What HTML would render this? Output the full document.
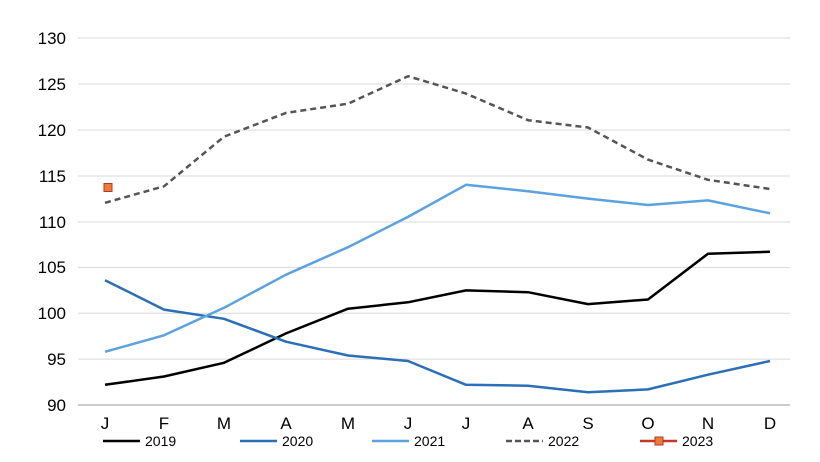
<!DOCTYPE html>
<html><head><meta charset="utf-8"><style>body{margin:0;background:#fff}svg{display:block}text{font-family:"Liberation Sans",sans-serif;font-size:17px;fill:#000}</style></head><body>
<svg width="820" height="462" viewBox="0 0 820 462" xmlns="http://www.w3.org/2000/svg">
<g stroke="#d9d9d9" stroke-width="1">
<line x1="78" x2="790" y1="38" y2="38"/><line x1="78" x2="790" y1="84" y2="84"/><line x1="78" x2="790" y1="130" y2="130"/><line x1="78" x2="790" y1="176" y2="176"/><line x1="78" x2="790" y1="222" y2="222"/><line x1="78" x2="790" y1="267.4" y2="267.4"/><line x1="78" x2="790" y1="313.3" y2="313.3"/><line x1="78" x2="790" y1="359.1" y2="359.1"/></g>
<line x1="78" x2="790" y1="405" y2="405" stroke="#999" stroke-width="1"/>
<g text-anchor="end">
<text x="66" y="44">130</text><text x="66" y="90">125</text><text x="66" y="136">120</text><text x="66" y="182">115</text><text x="66" y="228">110</text><text x="66" y="273">105</text><text x="66" y="319">100</text><text x="66" y="365">95</text><text x="66" y="411">90</text></g>
<g text-anchor="middle">
<text x="105" y="429">J</text><text x="164" y="429">F</text><text x="224" y="429">M</text><text x="286" y="429">A</text><text x="348" y="429">M</text><text x="408" y="429">J</text><text x="466" y="429">J</text><text x="528" y="429">A</text><text x="588" y="429">S</text><text x="648" y="429">O</text><text x="708" y="429">N</text><text x="770" y="429">D</text></g>
<g fill="none" stroke-width="2.5" stroke-linejoin="round">
<polyline stroke="#000" points="105,384.8 164,376.5 224,362.8 286,333.4 348,308.7 408,302.3 466,290.4 528,292.2 588,304.1 648,299.5 708,253.7 770,251.8"/>
<polyline stroke="#2a6fb8" points="105,280.2 164,309.6 224,318.8 286,341.7 348,355.5 408,361.0 466,384.8 528,385.7 588,392.2 648,389.4 708,374.7 770,361.0"/>
<polyline stroke="#5ba3e0" points="105,351.8 164,335.3 224,307.8 286,274.7 348,247.2 408,216.9 466,184.8 528,191.2 588,198.6 648,205.0 708,200.4 770,213.3"/>
<polyline stroke="#555" stroke-dasharray="6,4" points="105,202.8 164,186.3 224,136.7 286,112.9 348,103.7 408,76.2 466,93.6 528,120.2 588,127.5 648,159.6 708,179.8 770,189.0"/>
</g>
<rect x="104" y="183.5" width="8" height="8" fill="#ed7d31" stroke="#b33" stroke-width="1"/>
<g stroke-width="2.5">
<line x1="103" x2="140" y1="441" y2="441" stroke="#000"/>
<line x1="240" x2="277" y1="441" y2="441" stroke="#2a6fb8"/>
<line x1="372" x2="409" y1="441" y2="441" stroke="#5ba3e0"/>
<line x1="506" x2="543" y1="441" y2="441" stroke="#555" stroke-dasharray="6,3"/>
<line x1="640" x2="677" y1="441" y2="441" stroke="#c0392b"/></g>
<rect x="655" y="437" width="8" height="8" fill="#ed7d31" stroke="#b33"/>
<g style="font-size:14px"><text x="145" y="446" style="font-size:14px">2019</text><text x="282" y="446" style="font-size:14px">2020</text><text x="414" y="446" style="font-size:14px">2021</text><text x="548" y="446" style="font-size:14px">2022</text><text x="682" y="446" style="font-size:14px">2023</text></g>
</svg></body></html>
